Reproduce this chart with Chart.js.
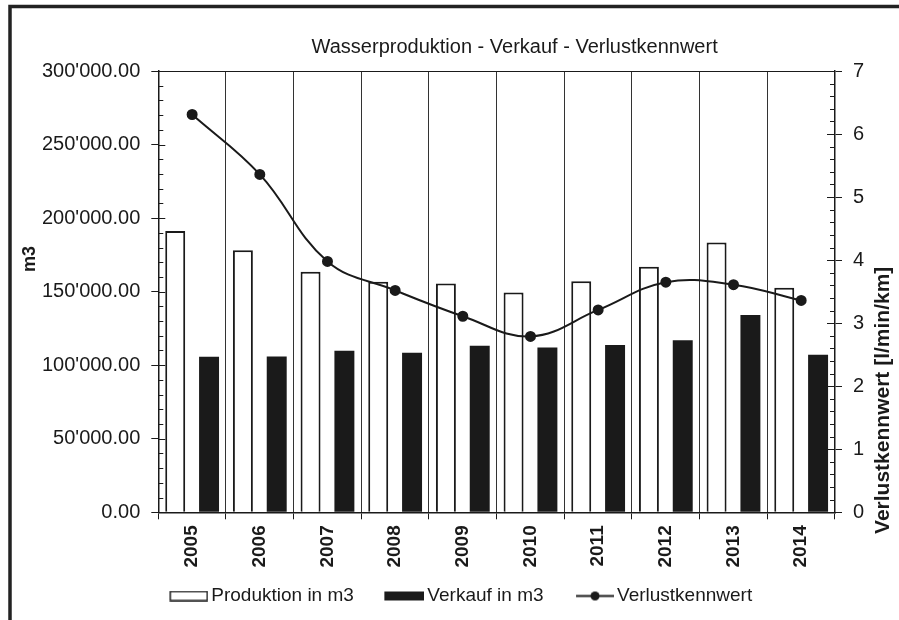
<!DOCTYPE html>
<html lang="de">
<head>
<meta charset="utf-8">
<title>Wasserproduktion - Verkauf - Verlustkennwert</title>
<script src="https://cdn.jsdelivr.net/npm/chart.js@4.4.1/dist/chart.umd.min.js"></script>
<style>
  html, body { margin: 0; padding: 0; background: #fff; }
  #grafico { display: block; }
</style>
</head>
<body>
<canvas id="grafico" width="899" height="620"></canvas>
<script>
/* --------------- datos --------------- */
const jahre = ['2005', '2006', '2007', '2008', '2009', '2010', '2011', '2012', '2013', '2014'];
const produktion = [191300, 178200, 163500, 156700, 155600, 149500, 157100, 166900, 183400, 152600];
const verkauf = [105700, 105900, 109800, 108400, 113200, 112100, 113700, 117000, 134200, 107100];
const verlust = [6.31, 5.36, 3.98, 3.52, 3.11, 2.79, 3.21, 3.65, 3.61, 3.36];

const m3Achse = { min: 0, max: 300000, step: 10000, label: 50000 };
const verlustAchse = { min: 0, max: 7, step: 0.2, label: 1 };

const tinta = '#1a1a1a';
const fuente = "'Liberation Sans', Arial, sans-serif";

Chart.defaults.font.family = fuente;
Chart.defaults.color = tinta;

function fmtM3(v) {
    return Math.round(v).toString().replace(/\B(?=(\d{3})+(?!\d))/g, "'") + '.00';
}

function esMayor(v, paso) {
    const r = v / paso;
    return Math.abs(r - Math.round(r)) < 1e-6;
}

/* --------------- iconos de la leyenda --------------- */
// lienzo ancho con la parte visible a la derecha, pegada al texto
function icono(dibujar) {
    const c = document.createElement('canvas');
    c.width = 65;
    c.height = 11;
    dibujar(c.getContext('2d'));
    return c;
}

const iconos = [
    icono((g) => {
        g.fillStyle = '#fff';
        g.fillRect(27, 1, 37, 9);
        g.strokeStyle = tinta;
        g.lineWidth = 1.5;
        g.strokeRect(27, 1, 37, 9);
    }),
    icono((g) => {
        g.fillStyle = tinta;
        g.fillRect(25, 1, 40, 9);
    }),
    icono((g) => {
        g.strokeStyle = tinta;
        g.lineWidth = 2;
        g.beginPath();
        g.moveTo(27, 5.5);
        g.lineTo(65, 5.5);
        g.stroke();
        g.fillStyle = tinta;
        g.beginPath();
        g.arc(46, 5.5, 4.5, 0, Math.PI * 2);
        g.fill();
    })
];

/* --------------- dibujos extra: marco, titulo, marcas --------------- */
const extras = {
    id: 'extras',
    beforeDraw(chart) {
        const g = chart.ctx;
        g.save();
        g.fillStyle = '#fff';
        g.fillRect(0, 0, chart.width, chart.height);
        g.strokeStyle = '#222';
        g.lineWidth = 3.5;
        g.beginPath();
        g.moveTo(10, chart.height);
        g.lineTo(10, 6.5);
        g.lineTo(chart.width, 6.5);
        g.stroke();
        g.restore();
    },
    afterDatasetsDraw(chart) {
        const g = chart.ctx;
        const a = chart.chartArea;
        const y = chart.scales.y;
        const y1 = chart.scales.y1;
        g.save();
        g.strokeStyle = tinta;
        g.lineWidth = 1;

        // borde superior del area
        g.beginPath();
        g.moveTo(a.left, a.top + 0.5);
        g.lineTo(a.right, a.top + 0.5);
        g.stroke();

        // marcas hacia dentro
        y.ticks.forEach((t, i) => {
            const py = Math.round(y.getPixelForTick(i)) + 0.5;
            const largo = esMayor(t.value, m3Achse.label) ? 7 : 5;
            g.beginPath();
            g.moveTo(a.left, py);
            g.lineTo(a.left + largo, py);
            g.stroke();
        });
        y1.ticks.forEach((t, i) => {
            const py = Math.round(y1.getPixelForTick(i)) + 0.5;
            const largo = esMayor(t.value, verlustAchse.label) ? 8 : 5;
            g.beginPath();
            g.moveTo(a.right, py);
            g.lineTo(a.right - largo, py);
            g.stroke();
        });

        // titulo y titulos de ejes
        g.fillStyle = tinta;
        g.textAlign = 'center';
        g.textBaseline = 'middle';
        g.font = '20px ' + fuente;
        g.fillText('Wasserproduktion - Verkauf - Verlustkennwert', (a.left + a.right) / 2 + 18, 47);

        g.font = 'bold 18px ' + fuente;
        g.save();
        g.translate(a.left - 128, a.top + 188);
        g.rotate(-Math.PI / 2);
        g.fillText('m3', 0, 0);
        g.restore();

        g.font = 'bold 21px ' + fuente;
        g.save();
        g.translate(a.right + 48, a.bottom - 112);
        g.rotate(-Math.PI / 2);
        g.fillText('Verlustkennwert [l/min/km]', 0, 0);
        g.restore();

        g.restore();
    }
};

/* --------------- grafico --------------- */
const datos = {
    labels: jahre,
    datasets: [
        {
            type: 'bar',
            label: 'Produktion in m3',
            data: produktion,
            yAxisID: 'y',
            backgroundColor: '#fff',
            borderColor: tinta,
            borderWidth: 2,
            order: 1
        },
        {
            type: 'bar',
            label: 'Verkauf in m3',
            data: verkauf,
            yAxisID: 'y',
            backgroundColor: tinta,
            borderWidth: 0,
            order: 1
        },
        {
            type: 'line',
            label: 'Verlustkennwert',
            data: verlust,
            yAxisID: 'y1',
            borderColor: tinta,
            borderWidth: 2,
            backgroundColor: tinta,
            pointBackgroundColor: tinta,
            pointBorderColor: tinta,
            pointRadius: 4.5,
            tension: 0.4,
            order: 0
        }
    ]
};

const config = {
    responsive: false,
    animation: false,
    layout: {
        padding: { top: 71, left: 3, right: 0, bottom: 4.5 }
    },
    datasets: {
        bar: { categoryPercentage: 1, barPercentage: 0.59 }
    },
    plugins: {
        title: { display: false },
        tooltip: { enabled: false },
        legend: {
            position: 'bottom',
            labels: {
                usePointStyle: true,
                pointStyleWidth: 52,
                padding: 12,
                color: tinta,
                font: { size: 19 },
                sort: (a, b) => a.datasetIndex - b.datasetIndex,
                generateLabels(chart) {
                    const items = Chart.defaults.plugins.legend.labels.generateLabels(chart);
                    items.forEach((it) => { it.pointStyle = iconos[it.datasetIndex]; });
                    return items;
                }
            }
        }
    },
    scales: {
        x: {
            afterFit(scale) { scale.height = 62.2; },
            grid: {
                offset: true,
                color: '#333',
                lineWidth: 1,
                tickLength: 7,
                tickColor: tinta
            },
            border: { color: tinta, width: 1.5 },
            ticks: {
                minRotation: 90,
                maxRotation: 90,
                autoSkip: false,
                padding: 6,
                font: { size: 19, weight: 'bold' }
            }
        },
        y: {
            position: 'left',
            min: m3Achse.min,
            max: m3Achse.max,
            afterFit(scale) { scale.width = 155.3; },
            grid: {
                drawOnChartArea: false,
                tickLength: 7,
                tickColor: (ctx) => esMayor(ctx.tick.value, m3Achse.label) ? tinta : 'rgba(0,0,0,0)'
            },
            border: { color: tinta, width: 1.5 },
            ticks: {
                stepSize: m3Achse.step,
                autoSkip: false,
                maxTicksLimit: 100,
                padding: 11,
                font: { size: 20 },
                callback: (v) => esMayor(v, m3Achse.label) ? fmtM3(v) : ''
            }
        },
        y1: {
            position: 'right',
            min: verlustAchse.min,
            max: verlustAchse.max,
            afterFit(scale) { scale.width = 64; },
            grid: {
                drawOnChartArea: false,
                tickLength: 7,
                tickColor: (ctx) => esMayor(ctx.tick.value, verlustAchse.label) ? tinta : 'rgba(0,0,0,0)'
            },
            border: { color: tinta, width: 1.5 },
            ticks: {
                stepSize: verlustAchse.step,
                autoSkip: false,
                maxTicksLimit: 100,
                padding: 11,
                font: { size: 20 },
                callback: (v) => esMayor(v, verlustAchse.label) ? String(Math.round(v)) : ''
            }
        }
    }
};

document.addEventListener('DOMContentLoaded', () => {
    const selector = document.getElementById('grafico');
    new Chart(selector, {
        type: 'bar',
        data: datos,
        options: config,
        plugins: [extras]
    });
});
</script>
</body>
</html>
